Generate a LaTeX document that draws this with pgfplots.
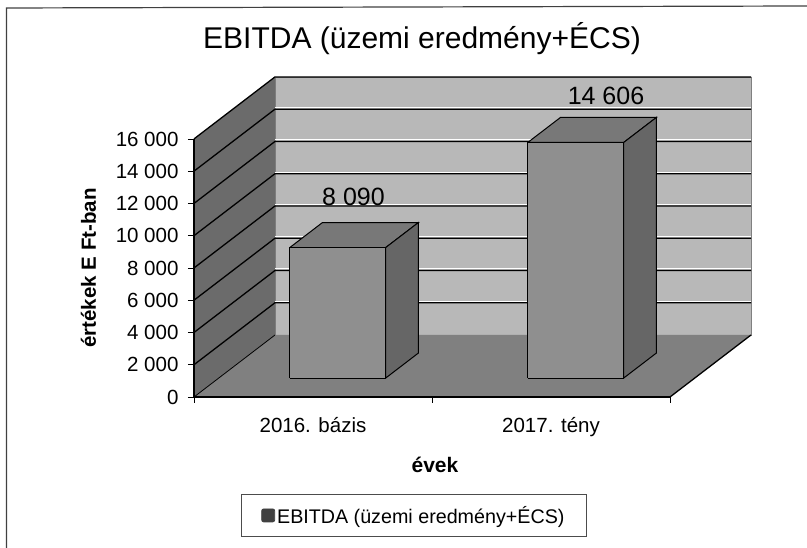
\documentclass[border=0pt]{standalone}
\usepackage{fontspec}
\setmainfont{Liberation Sans}
\usepackage{pgfplots}
\pgfplotsset{compat=1.18}
\definecolor{wallback}{gray}{0.72}
\definecolor{wallside}{gray}{0.42}
\definecolor{floorc}{gray}{0.50}
\definecolor{barfront}{gray}{0.56}
\definecolor{barside}{gray}{0.40}
\definecolor{bartop}{gray}{0.47}
\begin{document}
\begin{tikzpicture}[x=1pt,y=1pt]
\useasboundingbox (0,0) rectangle (807,548);
\draw[black!75,line width=1.2pt] (6.5,0) -- (6.5,540) -- (807,542);

% 3D part, oblique unit vectors
\begin{axis}[
    at={(194pt,151pt)}, anchor=origin,
    x={(238pt,0pt)}, y={(81pt,62pt)}, z={(0pt,0.016125pt)},
    xmin=0.5, xmax=2.5, ymin=0, ymax=1, zmin=0, zmax=16000,
    hide axis, clip=false,
]
% walls and floor
\addplot3[fill=wallback,draw=gray] coordinates {(0.5,1,0) (2.5,1,0) (2.5,1,16000) (0.5,1,16000) (0.5,1,0)};
\addplot3[fill=wallside,draw=none] coordinates {(0.5,0,0) (0.5,1,0) (0.5,1,16000) (0.5,0,16000) (0.5,0,0)};
\addplot3[fill=floorc,draw=none] coordinates {(0.5,0,0) (2.5,0,0) (2.5,1,0) (0.5,1,0) (0.5,0,0)};
% grid lines, back wall has a light streak above each one
\foreach \v/\w in {2000/2110,4000/4110,6000/6110,8000/8110,10000/10110,12000/12110,14000/14110} {
  \edef\temp{\noexpand\addplot3[white,line width=0.8pt] coordinates {(0.5,1,\w) (2.5,1,\w)};}
  \temp
}
\foreach \v in {2000,4000,6000,8000,10000,12000,14000,16000} {
  \edef\temp{\noexpand\addplot3[black,line width=1.3pt] coordinates {(0.5,0,\v) (0.5,1,\v) (2.5,1,\v)};}
  \temp
}
\addplot3[black,line width=0.8pt] coordinates {(0.5,0,0) (0.5,1,0)};
\addplot3[black,line width=1.3pt] coordinates {(2.5,0,0) (2.5,1,0)};
% front edges
\addplot3[black,line width=2pt] coordinates {(0.5,0,16000) (0.5,0,0) (2.5,0,0)};
% bars
\addplot3[fill=bartop,draw=black,line width=1pt] coordinates {(0.7985,0.306,8090) (1.2015,0.306,8090) (1.2015,0.709,8090) (0.7985,0.709,8090) (0.7985,0.306,8090)};
\addplot3[fill=barside,draw=black,line width=1pt] coordinates {(1.2015,0.306,0) (1.2015,0.709,0) (1.2015,0.709,8090) (1.2015,0.306,8090) (1.2015,0.306,0)};
\addplot3[fill=barfront,draw=black,line width=1pt] coordinates {(0.7985,0.306,0) (1.2015,0.306,0) (1.2015,0.306,8090) (0.7985,0.306,8090) (0.7985,0.306,0)};
\addplot3[fill=bartop,draw=black,line width=1pt] coordinates {(1.7985,0.306,14606) (2.2015,0.306,14606) (2.2015,0.709,14606) (1.7985,0.709,14606) (1.7985,0.306,14606)};
\addplot3[fill=barside,draw=black,line width=1pt] coordinates {(2.2015,0.306,0) (2.2015,0.709,0) (2.2015,0.709,14606) (2.2015,0.306,14606) (2.2015,0.306,0)};
\addplot3[fill=barfront,draw=black,line width=1pt] coordinates {(1.7985,0.306,0) (2.2015,0.306,0) (2.2015,0.306,14606) (1.7985,0.306,14606) (1.7985,0.306,0)};
\node[anchor=base,font=\fontsize{25}{25}\selectfont,yshift=30pt] at (axis cs:1,0.5,8090) {8 090};
\node[anchor=base,font=\fontsize{25}{25}\selectfont,xshift=14.5pt,yshift=25.5pt] at (axis cs:2,0.5,14606) {14 606};
\end{axis}

% front axis lines, ticks, labels, legend
\begin{axis}[
    at={(194pt,151pt)}, anchor=south west,
    width=476pt, height=258pt, scale only axis,
    xmin=0.5, xmax=2.5, ymin=0, ymax=16000,
    axis y line=left, axis x line=bottom,
    axis line style={-,black,line width=1.6pt},
    scaled y ticks=false,
    tick align=outside,
    xtick={1,2}, xticklabels={2016. bázis,2017. tény},
    minor xtick={0.5,1.5,2.5},
    ytick={0,2000,4000,6000,8000,10000,12000,14000,16000},
    yticklabels={0,2 000,4 000,6 000,8 000,10 000,12 000,14 000,16 000},
    major tick length=6pt, minor tick length=6pt,
    y tick style={black,line width=0.9pt},
    x tick style={draw=none},
    minor x tick style={draw=black,line width=0.9pt},
    tick label style={font=\fontsize{20.5}{20.5}\selectfont},
    xticklabel style={yshift=-11pt},
    yticklabel style={xshift=-6pt},
    xlabel={\textbf{évek}},
    xlabel style={font=\fontsize{21}{21}\selectfont,at={(0.5,0)},anchor=base,xshift=3pt,yshift=-76pt},
    ylabel={\textbf{értékek E Ft-ban}},
    ylabel style={font=\fontsize{20.5}{20.5}\selectfont,at={(0,0.5)},anchor=base,yshift=98pt},
    legend style={at={(0.462,-0.459)},anchor=center,draw=black!70,line width=0.8pt,
        font=\fontsize{19.7}{19.7}\selectfont,inner xsep=20pt,inner ysep=9.5pt},
    legend cell align=left,
    legend image code/.code={\fill[black!75,rounded corners=2pt] (0pt,-6.5pt) rectangle (13pt,6.5pt);},
]
\addlegendimage{black}
\addlegendentry{EBITDA (üzemi eredmény+ÉCS)}
\end{axis}

\node[font=\fontsize{30}{30}\selectfont] at (422,509) {EBITDA (üzemi eredmény+ÉCS)};
\end{tikzpicture}
\end{document}
